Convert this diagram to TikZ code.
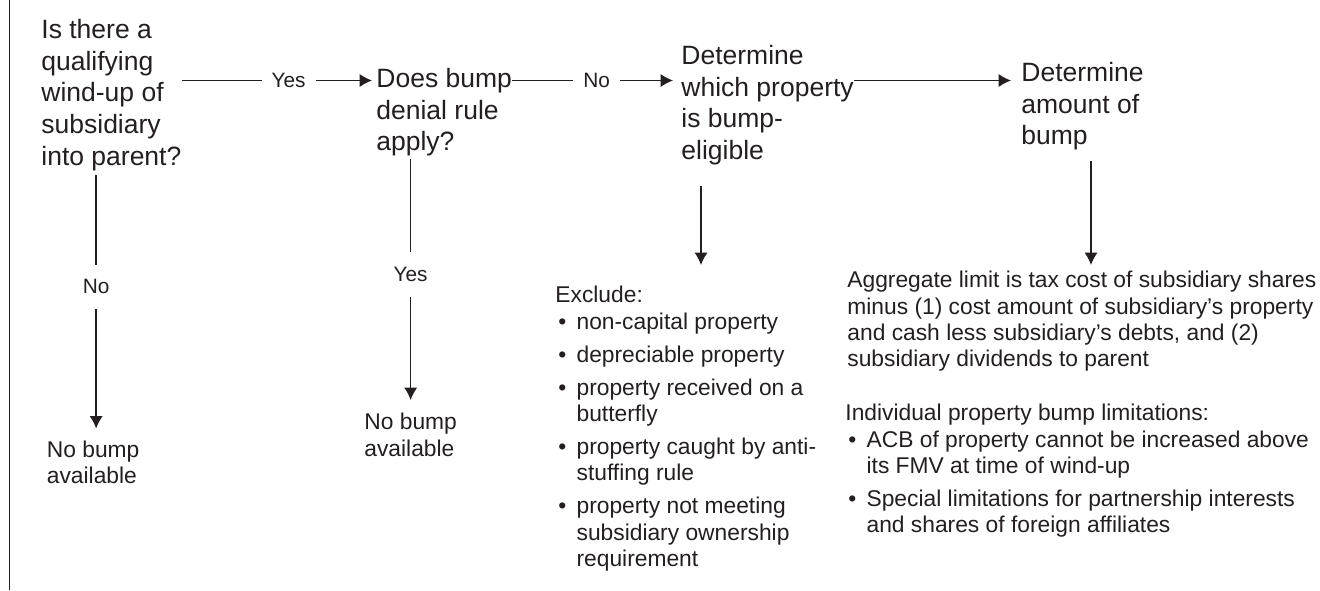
\documentclass[tikz,border=0pt]{standalone}
\usepackage{fontspec}
\setmainfont{Liberation Sans}
\usetikzlibrary{arrows.meta}
\definecolor{ink}{HTML}{231F20}
\newcommand{\itm}{\makebox[10.6pt][l]{\hspace{1.5pt}\textbullet}}
\newcommand{\ind}{\hspace*{10.6pt}}

\begin{document}
\begin{tikzpicture}[x=0.5pt, y=-0.5pt,
	ques/.style={anchor=north west, inner sep=0pt, align=left, text=ink, font=\fontsize{13.25}{15.8}\selectfont},
	txt/.style={anchor=north west, inner sep=0pt, align=left, text=ink, font=\fontsize{11.4}{13.15}\selectfont},
	lbl/.style={fill=white, text=ink, inner xsep=5pt, inner ysep=7.5pt, font=\fontsize{10.4}{12}\selectfont},
	arr/.style={draw=ink, line width=0.7pt, -{Latex[length=6.2pt, width=6.6pt]}}]
	\useasboundingbox (0,0) rectangle (1320,590);
	\draw[draw=ink, line width=0.7pt] (9.5,0) -- (9.5,590);

	% Define the nodes with specific positions
	\node[ques] (Q1) at (41, 19) {Is there a\\qualifying\\wind-up of\\subsidiary\\into parent?};
	\node[ques] (Q2) at (376, 68) {Does bump\\denial rule\\apply?};
	\node[ques] (Q3) at (681, 45) {Determine\\which property\\is bump-\\eligible};
	\node[ques] (Q4) at (1021, 62) {Determine\\amount of\\bump};

	\node[txt] (nb1) at (46.5, 440.5) {No bump\\available};
	\node[txt] (nb2) at (364, 413) {No bump\\available};
	\node[txt] (excl) at (555, 286) {Exclude:\\
		\itm non-capital property\\[3.35pt]
		\itm depreciable property\\[3.35pt]
		\itm property received on a\\ \ind butterfly\\[3.35pt]
		\itm property caught by anti-\\ \ind stuffing rule\\[3.35pt]
		\itm property not meeting\\ \ind subsidiary ownership\\ \ind requirement};
	\node[txt] (agg) at (847, 271) {Aggregate limit is tax cost of subsidiary shares\\
		minus (1) cost amount of subsidiary’s property\\
		and cash less subsidiary’s debts, and (2)\\
		subsidiary dividends to parent};
	\node[txt] (indiv) at (845, 404) {Individual property bump limitations:\\
		\itm ACB of property cannot be increased above\\ \ind its FMV at time of wind-up\\[3.35pt]
		\itm Special limitations for partnership interests\\ \ind and shares of foreign affiliates};
	\coordinate (row) at (0, 80.5);

	% Draw the connectors between nodes with labels
	\draw[arr, shorten >=2pt] (Q1.east |- row) -- node[lbl, pos=0.55] {Yes} (Q2.west |- row);
	\draw[arr, shorten >=4pt] (Q2.east |- row) -- node[lbl] {No} (Q3.west |- row);
	\draw[arr, shorten >=5pt] (Q3.east |- row) -- (Q4.west |- row);
	\draw[arr, shorten <=2pt, shorten >=6pt] ([xshift=1.5pt]Q1.south -| nb1.north) -- node[lbl, pos=0.43] {No} ([xshift=1.5pt]nb1.north);
	\draw[arr, shorten <=1pt, shorten >=6.5pt] (Q2.south -| nb2.north) -- node[lbl, pos=0.46] {Yes} (nb2.north);
	\draw[arr, shorten <=10.5pt, shorten >=10.5pt] ([xshift=10pt]Q3.south west) -- ([xshift=10pt]Q3.south west |- excl.north);
	\draw[arr, shorten <=5pt, shorten >=3pt] ([xshift=35pt]Q4.south west) -- ([xshift=35pt]Q4.south west |- agg.north);
\end{tikzpicture}
\end{document}
